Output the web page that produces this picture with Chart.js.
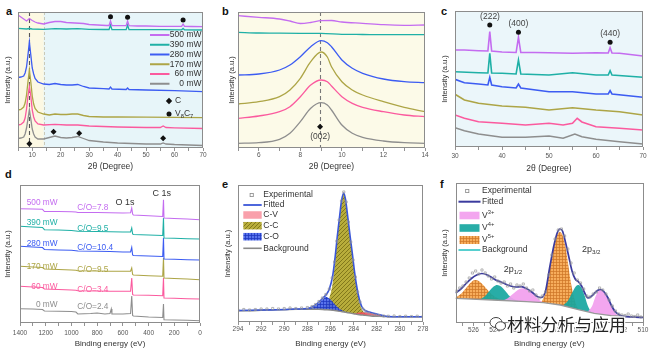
<!DOCTYPE html>
<html><head><meta charset="utf-8">
<script src="https://cdn.jsdelivr.net/npm/chart.js@4.4.1/dist/chart.umd.min.js"></script>
<style>
html,body{margin:0;padding:0;background:#fff;}
#wrap{position:relative;width:652px;height:353px;overflow:hidden;background:#fff;font-family:"Liberation Sans",Arial,sans-serif;}
#wrap canvas{position:absolute;}
.plbl{position:absolute;font-weight:bold;font-size:11px;line-height:11px;color:#111;}
.wm{position:absolute;left:507px;top:315px;font-family:"Noto Sans CJK SC",sans-serif;font-size:17px;line-height:18px;color:#222;letter-spacing:0px;
 text-shadow:1px 0 0 #fff,-1px 0 0 #fff,0 1px 0 #fff,0 -1px 0 #fff,1px 1px 0 #fff,-1px -1px 0 #fff,1px -1px 0 #fff,-1px 1px 0 #fff;}
.wmi{position:absolute;left:489px;top:316px;}
</style></head>
<body><div id="wrap">
<div class="plbl" style="left:6px;top:5.5px">a</div>
<div class="plbl" style="left:222px;top:5.5px">b</div>
<div class="plbl" style="left:441px;top:5.5px">c</div>
<div class="plbl" style="left:5px;top:168.5px">d</div>
<div class="plbl" style="left:222px;top:178.5px">e</div>
<div class="plbl" style="left:440px;top:178.5px">f</div>
</div>
<script>
// ---------------- DATA ----------------
const powerLabels = ['500 mW','390 mW','280 mW','170 mW','60 mW','0 mW'];
const coRatio = [7.8, 9.5, 10.4, 9.5, 3.4, 2.4];

// (a) XRD 5-70 deg
const a500X = [5,6,7,8,9,10,11,12,14,16,18,20,22,25,28,30,33,36,37,37.5,38,40,43,43.5,44,47,50,55,60,62.5,63,63.5,66,70];
const a500Y = [133,131,129,127,129.5,127.5,126,125,124,125.5,126.5,126.5,125.5,125,124.5,123.5,123,122.5,122.5,127,122.5,122.3,122.3,127,122.3,122,122,121.7,121.7,121.7,124,121.7,121.5,121.3];
const a390X = [5,8,9,10,14,18,22,26,30,35,37,37.5,38,43,43.5,44,50,56,62.5,63,63.5,70];
const a390Y = [119.7,119,119.5,119,118.7,119.3,119,119.3,118.7,118.5,118.5,123,118.5,118.3,123,118.3,118.3,118.3,118.2,119.5,118.2,118];
const a280X = [5,6,7,7.5,8,8.5,9,9.5,10,10.5,11,12,14,16,18,20,22,24,26,28,30,35,37,37.5,38,43,43.5,44,50,60,70];
const a280Y = [70.5,71,72,75,81,93,106,93,80,74,69.5,66,64,63.5,64.5,63.5,63,63,63.5,61.5,60,59.3,59,61,59,58.5,60,58.5,58,57.3,56.3];
const a170X = [5,6,7,7.5,8,8.5,9,9.5,10,10.5,11,12,14,16,18,20,22,24,26,28,30,35,40,50,60,70];
const a170Y = [38,38.5,41,45,53,66,78,66,52,44,39.5,36,34,33,34,33.5,33.5,34,34,32.5,31.5,31,31,30.8,30.6,30.3];
const a60X = [5,6,7,7.5,8,8.5,9,9.5,10,10.5,11,12,14,18,22,26,30,40,50,55,56,57,60,70];
const a60Y = [23,23.5,26,30,39,52,61.3,52,38,31,27,24,23,23.7,23,23,22,21,20.5,20.5,22,20.5,20.2,19.5];
const a0X = [5,6,7,7.5,8,8.5,9,9.5,10,10.5,11,12,14,16,18,20,22,24,26,28,30,35,40,50,55,56,57,60,70];
const a0Y = [9.5,10,11,14,20,29,38,29,19,14,11,9,9,10.5,12,10.5,10,10.5,11.5,9.5,7.5,6,5,4,4,5,4,3.5,2.5];
const aV8C7X = [37.5,43.5,63];
const aV8C7Y = [131.3,130.7,128];
const aCarbonX = [9,17.5,26.5,56];
const aCarbonY = [4.3,16.3,14.7,9.7];

// (b) XRD 5-14 deg
const b500X = [5,6,7,7.5,8,8.5,9,9.5,10,11,12,13,14];
const b500Y = [132.3,130.7,129,127,124.5,125.5,127.3,127.5,126,124.7,123.3,122.7,123];
const b390X = [5,6,7,8,9,10,11,12,13,14];
const b390Y = [115.7,115,114.8,114.7,114.7,113.7,113.5,113.3,113.3,113.3];
const bPeakX = [5,6,7,7.5,8,8.5,9,9.3,9.5,10,10.5,11,12,13,14];
const b280Y = [73,74,78,83,91.3,101.3,107.3,105.3,101.3,88,79.7,74.7,69,66.3,65.3];
const b170Y = [44,46.3,51.3,58,69.7,86.3,96,91,81.3,66.3,58,53,46.3,40.7,36.3];
const b60Y = [29.7,32,36.3,41.3,51.3,63,68,66.3,62,51.3,44.7,40.7,36.3,33,31.3];
const b0Y = [4.7,5.3,8.7,14.7,26.3,39.7,45.3,43,38,23,14.7,10.7,7,5.3,4.7];
const b002X = [8.95];
const b002Y = [21.3];

// (c) XRD 30-70 deg
const c500X = [30,32,35,37,37.4,37.8,40,43,43.5,44,47,50,55,60,62.6,63,63.4,65,70];
const c500Y = [97,97,96.3,96,115.3,96,95,94.5,109.7,94.5,94.5,94.3,93.7,94.3,94,99.3,94,93.7,91];
const c390X = [30,35,37,37.4,37.8,40,43,43.5,44,50,55,60,62.6,63,63.4,70];
const c390Y = [75.3,74.3,74,93.7,74,73.7,73,87,73,72,74.3,72,72,76.3,72,69.7];
const c280X = [30,32,35,37,37.4,37.8,40,43,43.5,44,50,55,60,62.6,63,63.4,70];
const c280Y = [67.7,64.3,63,62,69.7,62,60.3,59,63,59,55.3,55.3,53,53,56.3,53,49.7];
const c170X = [30,32,35,40,45,50,55,60,65,70];
const c170Y = [52.7,47,43.7,41,39.7,37,39.3,37,35.3,32];
const c60X = [30,32,35,40,45,50,53,55,56,57,60,65,70];
const c60Y = [32,28.7,25.3,23.7,22,23.7,22,23.7,28.7,25,20.3,18.7,17];
const c0X = [30,32,35,40,45,50,53,55.5,57,60,65,70];
const c0Y = [19.3,16.3,13,9.7,9.7,11,8.7,13,10.3,7.7,5.3,3];
const cPeakX = [37.4,43.5,63];
const cPeakY = [122,114.7,104.7];
const cPeakLabels = ['(222)','(400)','(440)'];

// (d) XPS survey
const dX = [1400,1300,1225,1210,1100,1000,965,950,800,700,600,540,531,524,518,400,290,284,280,200,100,0];
const d500 = [114.3,114,113.7,111.5,111.5,111.3,111,110.5,110.5,110.3,110,110.3,115,109,108,107.3,106.5,123.3,105,104.5,104,103.3];
const d390 = [96.7,96,95.5,93.3,93,92.5,92,91.7,91.5,91.3,91,91,95,89,88.5,88,87.5,105,85,84.7,84.3,84];
const d280 = [76.7,76,75.5,73.5,73,72.7,72.3,72,71.7,71.5,71,71,75.5,68,67.5,67,66.5,85,64,63.7,63.3,63];
const d170 = [56.7,56,55.5,54,53.5,53,52.7,52.3,52,51.8,51.7,51.7,55,48.5,48,47.3,46.7,65,45,44.5,44,43.3];
const d60 = [36.7,36,35.5,34,33.5,33,32.7,32.3,32,31.8,31.7,31.7,45,28.5,28,27.7,27.3,45,25,24.7,24.3,24];
const d0X = [1400,1300,1225,1210,1100,1000,965,950,850,800,740,700,690,685,600,540,531,524,518,400,290,284,280,200,100,0];
const d0 = [14.3,14,13.5,12,11.7,11.5,11,9,9.5,10,9,9.5,14,9,9,9.5,27,7.5,7,6,5.5,19,3.3,3,2.7,2.3];

// (e) C 1s
const eExpX = [294,293.5,293,292.5,292,291.5,291,290.5,290,289.5,289,288.5,288,287.6,287.3,287,286.7,286.4,286.1,285.85,285.65,285.45,285.25,285.05,284.85,284.65,284.45,284.25,284.05,283.85,283.65,283.45,283.2,283,282.7,282.4,282.1,281.8,281.4,281,280.5,280,279.5,279,278.5,278];
const eExpY = [12,12.5,12,12.5,13,13,13.5,13,13.5,14,13.5,14,14.5,15.5,17.5,20.5,24,27.5,33,44,60,81,102,121,130,120,100,80,62,45,30,20,13,10.5,9,7.5,7,6.5,6,5.8,6,5.5,5.8,5.5,5.8,5.5];
const eFitX = [294,292,290,289,288,287.5,287,286.7,286.4,286.1,285.8,285.6,285.4,285.2,285.05,284.86,284.7,284.5,284.3,284.1,283.9,283.7,283.5,283.3,283,282.5,282,281.5,281,280,278];
const eFitY = [11.5,12,12.5,13,13.5,15.5,20,23.5,27,33,47,65,87,107,121,129,122.5,104.5,85.5,67.5,48.5,33.5,22.5,15.5,11.5,9.5,8,6.5,5.5,5.3,5.3];
const eBgX = [294,293,292,291,290,289,288,287,286.5,286,285.5,285,284.5,284,283.5,283,282.5,282,281,280,278];
const eBgY = [11.3,11.3,11.7,12,12.3,12.7,12.7,12.7,12.3,12,11.3,10.3,9.3,8.3,7.3,6.7,6,5.7,5.3,5.3,5.3];
const eCVX = [284,283.5,283,282.7,282.3,282,281.5,281];
const eCVY = [8.6,9.6,9.8,9.6,8.8,8,6.5,5.5];
const eCCX = [287.5,287,286.5,286.1,285.8,285.6,285.4,285.2,285.05,284.86,284.7,284.5,284.3,284.1,283.9,283.7,283.5,283.3,283,282.5,282];
const eCCY = [12.8,13.5,16,24,40,62,85,106,120,128.7,122,104,85,67,48,33,21,13,8.5,6.5,5.8];
const eCOX = [288.3,288,287.5,287,286.7,286.4,286.1,285.8,285.5,285.2,284.9,284.6];
const eCOY = [12.7,13.2,15,19,22.5,25.3,23.5,20,16,13,11,9.6];

// (f) V 2p
const fExpX = [527.6,527.3,527.0,526.7,526.4,526.1,525.8,525.5,525.2,524.9,524.6,524.3,524.0,523.7,523.4,523.1,522.8,522.5,522.2,521.9,521.6,521.3,521.0,520.7,520.4,520.1,519.8,519.5,519.2,518.9,518.6,518.3,518.0,517.7,517.4,517.1,516.8,516.5,516.2,515.9,515.6,515.3,515.0,514.7,514.4,514.1,513.8,513.5,513.2,512.9,512.6,512.3,512.0,511.7,511.4,511.1,510.8,510.5,510.2];
const fExpY = [32,35,37,41,45,50,52,49,53,50,47,44,46,42,40,41,37,39,35,38,37,39,35,32,33,28,25,27,31,48,68,84,93,94,87,74,60,50,43,40,34,27,26,29,31,35,33,29,23,17,12,9,8,7.5,9,7,6.5,8,6];
const fFitX = [527.7,527.2,526.7,526.2,525.7,525.2,524.7,524.2,523.8,523.4,523.0,522.5,522.0,521.5,521.0,520.5,520.0,519.6,519.2,518.8,518.4,518.1,517.84,517.6,517.3,517.0,516.7,516.4,516.1,515.8,515.5,515.2,514.9,514.6,514.3,514.0,513.7,513.3,513.0,512.6,512.2,511.8,511,510];
const fFitY = [30,34,39.5,44.5,48,49.5,48,45,42.5,41,39,37,36,36.3,34.5,31,26.5,25.5,32,56,78,90,94,92,80,66,52,44,41.3,37,30,25,26.5,29.5,32.5,33.5,31.5,25,18,11,8,6.7,6,5.5];
const fBgX = [527.7,524.2,521.0,519.4,517.8,516.2,514.6,513.0,511.4,510];
const fBgY = [24.7,23,21.3,20.3,18,13.7,9.7,7.3,6.3,5.8];
const fLow1X = [523.2,522.8,522.4,522.0,521.7,521.36,521.0,520.6,520.2,519.8,519.4];
const fLow1Y = [22.5,24.5,28,31.5,33.8,34.7,33.8,31,27,23,20.5];
const fLow3X = [515.2,514.8,514.5,514.2,514.0,513.7,513.3,513.0,512.7,512.4,512.0];
const fLow3Y = [11.5,17,26,32,33,31,24,17,11,8,6.8];
const fMid1X = [525.3,524.9,524.5,524.1,523.76,523.4,523.0,522.6,522.2,521.8];
const fMid1Y = [24,27,32,36.5,38,36.5,32,27,24,22.2];
const fMid3X = [517.5,517.1,516.7,516.35,516.08,515.8,515.5,515.2,514.9,514.6];
const fMid3Y = [18,22,30,36.5,38,35,27,17,11.5,9.8];
const fHigh1X = [527.7,527.2,526.7,526.2,525.84,525.5,525.0,524.5,524.0,523.5,523.1];
const fHigh1Y = [25.5,29,35,41,43,42,37,31,26.5,24,23.2];
const fHigh3X = [519.6,519.2,518.8,518.4,518.1,517.84,517.6,517.3,517.04,516.8,516.5,516.24,516.0];
const fHigh3Y = [21,30,55,77,88,91,88,75,57,40,25,16.5,13];

// ---------------- STYLE / HELPERS ----------------
const F = '"Liberation Sans", Arial, Helvetica, sans-serif';
const seriesColors = ['#c46cf0','#1fb0a6','#3c5cf2','#ada546','#fb5a9e','#8e8e8e'];
Chart.defaults.font.family = F;
Chart.defaults.color = '#555';

const pts = (xs, ys) => xs.map((x, i) => ({x: x, y: ys[i]}));

function makePattern(base, line, type, size) {
  const c = document.createElement('canvas'); c.width = size; c.height = size;
  const g = c.getContext('2d');
  g.fillStyle = base; g.fillRect(0, 0, size, size);
  g.strokeStyle = line; g.lineWidth = 0.8;
  g.beginPath();
  if (type === 'diag') {
    g.moveTo(0, size); g.lineTo(size, 0);
    g.moveTo(-1, 1); g.lineTo(1, -1);
    g.moveTo(size - 1, size + 1); g.lineTo(size + 1, size - 1);
  } else {
    g.moveTo(0, 0.5); g.lineTo(size, 0.5);
    g.moveTo(0.5, 0); g.lineTo(0.5, size);
  }
  g.stroke();
  return g.createPattern(c, 'repeat');
}
const ccFill = makePattern('rgba(178,166,42,0.92)', 'rgba(110,100,15,0.9)', 'diag', 4);
const coFill = makePattern('rgba(70,100,235,0.9)', 'rgba(30,55,190,0.95)', 'grid', 3);
const cvFill = 'rgba(244,70,95,0.85)';
const cvLegend = '#f9a0ab';
const fHighFill = makePattern('rgba(246,166,78,0.92)', 'rgba(206,118,40,0.9)', 'grid', 3);
const fMidFill = 'rgba(22,166,160,0.92)';
const fLowFill = 'rgba(242,158,238,0.92)';

function parseRich(s) {
  const out = []; let i = 0, buf = '';
  while (i < s.length) {
    const ch = s[i];
    if ((ch === '_' || ch === '^') && s[i + 1] === '{') {
      if (buf) { out.push({t: buf, k: 0}); buf = ''; }
      const j = s.indexOf('}', i);
      out.push({t: s.slice(i + 2, j), k: ch === '_' ? 1 : 2});
      i = j + 1;
    } else { buf += ch; i++; }
  }
  if (buf) out.push({t: buf, k: 0});
  return out;
}
function drawRich(ctx, s, x, y, size, color, align) {
  const parts = parseRich(s);
  let w = 0;
  for (const p of parts) { ctx.font = (p.k ? size * 0.68 : size) + 'px ' + F; p.w = ctx.measureText(p.t).width; w += p.w; }
  let cx = align === 'left' ? x : (align === 'right' ? x - w : x - w / 2);
  ctx.fillStyle = color; ctx.textBaseline = 'middle'; ctx.textAlign = 'left';
  for (const p of parts) {
    ctx.font = (p.k ? size * 0.68 : size) + 'px ' + F;
    const dy = p.k === 1 ? size * 0.3 : (p.k === 2 ? -size * 0.38 : 0);
    ctx.fillText(p.t, cx, y + dy);
    cx += p.w;
  }
}

const DECOR = new WeakMap();
const decorPlugin = {
  id: 'decorRK',
  beforeDatasetsDraw(chart) {
    const o = DECOR.get(chart.canvas) || {};
    const {ctx, chartArea: a} = chart; const xs = chart.scales.x;
    ctx.save();
    ctx.fillStyle = o.bg || '#fff';
    ctx.fillRect(a.left, a.top, a.width, a.height);
    for (const b of (o.bands || [])) {
      const x1 = xs.getPixelForValue(b.from), x2 = xs.getPixelForValue(b.to);
      ctx.fillStyle = b.color;
      ctx.fillRect(Math.min(x1, x2), a.top, Math.abs(x2 - x1), a.height);
    }
    for (const v of (o.vlines || [])) {
      const px = Math.round(xs.getPixelForValue(v.x)) + 0.5;
      ctx.strokeStyle = v.color; ctx.lineWidth = v.width || 1; ctx.setLineDash(v.dash || []);
      ctx.beginPath(); ctx.moveTo(px, a.top); ctx.lineTo(px, a.bottom); ctx.stroke();
    }
    ctx.restore();
  },
  afterDatasetsDraw(chart) {
    const o = DECOR.get(chart.canvas) || {};
    const {ctx, chartArea: a} = chart; const xs = chart.scales.x, ys = chart.scales.y;
    ctx.save();
    ctx.strokeStyle = '#8c8c8c'; ctx.lineWidth = 1; ctx.setLineDash([]);
    ctx.strokeRect(Math.round(a.left) + 0.5, Math.round(a.top) + 0.5, Math.round(a.width) - 1, Math.round(a.height) - 1);
    for (const t of (o.texts || [])) {
      drawRich(ctx, t.text, xs.getPixelForValue(t.x), ys.getPixelForValue(t.y), t.size || 8, t.color || '#333', t.align || 'center');
    }
    for (const it of (o.legend || [])) {
      const y = a.top + it.y, x1 = a.left + it.x1, x2 = a.left + it.x2, cx = (x1 + x2) / 2;
      ctx.save();
      if (it.kind === 'line') {
        ctx.strokeStyle = it.color; ctx.lineWidth = it.lw || 1.5;
        ctx.beginPath(); ctx.moveTo(x1, y); ctx.lineTo(x2, y); ctx.stroke();
      } else if (it.kind === 'box') {
        ctx.fillStyle = it.fill; ctx.fillRect(x1, y - it.h / 2, x2 - x1, it.h);
      } else if (it.kind === 'sq') {
        ctx.strokeStyle = it.color; ctx.lineWidth = 0.8; ctx.strokeRect(cx - 1.6, y - 1.6, 3.2, 3.2);
      } else if (it.kind === 'diamond') {
        ctx.fillStyle = it.color; ctx.beginPath();
        ctx.moveTo(cx, y - 3.2); ctx.lineTo(cx + 3.2, y); ctx.lineTo(cx, y + 3.2); ctx.lineTo(cx - 3.2, y); ctx.closePath(); ctx.fill();
      } else if (it.kind === 'circle') {
        ctx.fillStyle = it.color; ctx.beginPath(); ctx.arc(cx, y, 2.5, 0, Math.PI * 2); ctx.fill();
      }
      ctx.restore();
      drawRich(ctx, it.text, a.left + it.tx, y, it.size || 8.5, it.tcolor || '#333', it.align || 'left');
    }
    ctx.restore();
  }
};

function buildChart(s) {
  const cv = document.createElement('canvas');
  cv.width = s.box.w; cv.height = s.box.h;
  cv.style.left = s.box.left + 'px'; cv.style.top = s.box.top + 'px';
  cv.style.width = s.box.w + 'px'; cv.style.height = s.box.h + 'px';
  document.getElementById('wrap').appendChild(cv);
  DECOR.set(cv, s.decor || {});
  const xAxisH = s.box.top + s.box.h - s.area.b;
  const yAxisW = s.area.l - s.box.left;
  const major = s.x.major;
  return new Chart(cv.getContext('2d'), {
    type: 'line',
    data: {datasets: s.datasets},
    options: {
      responsive: false, maintainAspectRatio: false, animation: false, devicePixelRatio: 1, events: [],
      layout: {padding: {left: 0, top: s.area.t - s.box.top, right: s.box.left + s.box.w - s.area.r, bottom: 0}},
      elements: {point: {radius: 0, hoverRadius: 0}, line: {borderWidth: 1.3, tension: 0}},
      plugins: {legend: {display: false}, tooltip: {enabled: false}},
      scales: {
        x: {
          type: 'linear', position: 'bottom', bounds: 'data', min: s.x.min, max: s.x.max, reverse: !!s.x.reverse,
          afterFit: sc => { sc.height = xAxisH; },
          ticks: {stepSize: s.x.step, autoSkip: false, maxRotation: 0, minRotation: 0, includeBounds: false,
                  padding: s.x.pad, color: '#555', font: {size: 6.5, family: F},
                  callback: v => (Math.abs(v / major - Math.round(v / major)) < 1e-6 ? String(Math.round(v)) : '')},
          grid: {display: true, drawOnChartArea: false, drawTicks: true, tickLength: 3, color: '#777', lineWidth: 0.8},
          border: {display: false},
          title: {display: true, text: s.x.title, color: '#333', font: {size: s.x.titleSize, family: F}, padding: {top: 0, bottom: s.x.titlePb}}
        },
        y: {
          type: 'linear', position: 'left', bounds: 'data', min: 0, max: s.area.b - s.area.t,
          afterFit: sc => { sc.width = yAxisW; },
          ticks: {display: false}, grid: {display: false}, border: {display: false},
          title: {display: true, text: 'Intensity (a.u.)', color: '#333', font: {size: 7.5, family: F}, padding: {top: s.yTitlePt, bottom: 0}}
        }
      }
    },
    plugins: [decorPlugin]
  });
}

function lineDs(xs, ys, color, extra) {
  return Object.assign({data: pts(xs, ys), borderColor: color, backgroundColor: color, fill: false, pointRadius: 0}, extra || {});
}
function markerDs(xs, ys, style, r) {
  return {data: pts(xs, ys), showLine: false, pointStyle: style, pointRadius: r, pointBackgroundColor: '#111', pointBorderColor: '#111', pointBorderWidth: 0, borderColor: '#111'};
}
function powerLegend(top, spacing) {
  return powerLabels.map((t, i) => ({kind: 'line', x1: 132, x2: 151.5, y: top + spacing * i, color: seriesColors[i], lw: 2, text: t, tx: 183.5, align: 'right', size: 8.5}));
}

// ---------------- PANEL a ----------------
buildChart({
  box: {left: 0, top: 0, w: 215, h: 175}, area: {l: 18, r: 203, t: 12, b: 148},
  x: {min: 5, max: 70, step: 5, major: 10, pad: 0, title: '2\u03B8 (Degree)', titleSize: 8.5, titlePb: 2.9},
  yTitlePt: 3.5,
  datasets: [
    markerDs(aV8C7X, aV8C7Y, 'circle', 2.5),
    markerDs(aCarbonX, aCarbonY, 'rectRot', 3),
    lineDs(a500X, a500Y, seriesColors[0]),
    lineDs(a390X, a390Y, seriesColors[1]),
    lineDs(a280X, a280Y, seriesColors[2]),
    lineDs(a170X, a170Y, seriesColors[3]),
    lineDs(a60X, a60Y, seriesColors[4]),
    lineDs(a0X, a0Y, seriesColors[5])
  ],
  decor: {
    bg: '#e7f5f9',
    bands: [{from: 5, to: 14, color: '#fcf8e3'}],
    vlines: [{x: 9, color: '#555', dash: [4, 3], width: 1.1}, {x: 14, color: '#c9c9b8', dash: [3, 2], width: 1}],
    legend: powerLegend(23, 9.75).concat([
      {kind: 'diamond', x1: 151, x2: 151, y: 89, color: '#111', text: 'C', tx: 157, size: 8.5},
      {kind: 'circle', x1: 151, x2: 151, y: 102, color: '#111', text: 'V_{8}C_{7}', tx: 157, size: 8.5}
    ])
  }
});

// ---------------- PANEL b ----------------
const bOpt = {cubicInterpolationMode: 'monotone'};
buildChart({
  box: {left: 215, top: 0, w: 215, h: 175}, area: {l: 238, r: 425, t: 12, b: 148},
  x: {min: 5, max: 14, step: 1, major: 2, pad: 0, title: '2\u03B8 (Degree)', titleSize: 8.5, titlePb: 3.2},
  yTitlePt: 12.2,
  datasets: [
    markerDs(b002X, b002Y, 'rectRot', 3),
    lineDs(b500X, b500Y, seriesColors[0], bOpt),
    lineDs(b390X, b390Y, seriesColors[1], bOpt),
    lineDs(bPeakX, b280Y, seriesColors[2], bOpt),
    lineDs(bPeakX, b170Y, seriesColors[3], bOpt),
    lineDs(bPeakX, b60Y, seriesColors[4], bOpt),
    lineDs(bPeakX, b0Y, seriesColors[5], bOpt)
  ],
  decor: {
    bg: '#fcfae8',
    vlines: [{x: 8.95, color: '#777', dash: [4, 3], width: 1.1}],
    texts: [{x: 8.95, y: 11.3, text: '(002)', size: 8.5, color: '#444'}]
  }
});

// ---------------- PANEL c ----------------
const cOpt = {borderWidth: 1.6};
buildChart({
  box: {left: 430, top: 0, w: 222, h: 175}, area: {l: 455, r: 643, t: 11, b: 147},
  x: {min: 30, max: 70, step: 5, major: 10, pad: 2.8, title: '2\u03B8 (Degree)', titleSize: 8.5, titlePb: 1.6},
  yTitlePt: 10.5,
  datasets: [
    markerDs(cPeakX, cPeakY, 'circle', 2.5),
    lineDs(c500X, c500Y, seriesColors[0], cOpt),
    lineDs(c390X, c390Y, seriesColors[1], cOpt),
    lineDs(c280X, c280Y, seriesColors[2], cOpt),
    lineDs(c170X, c170Y, seriesColors[3], cOpt),
    lineDs(c60X, c60Y, seriesColors[4], cOpt),
    lineDs(c0X, c0Y, seriesColors[5], cOpt)
  ],
  decor: {
    bg: '#ebf6fa',
    texts: [
      {x: 37.45, y: 130.5, text: cPeakLabels[0], size: 8.5, color: '#444'},
      {x: 43.5, y: 123, text: cPeakLabels[1], size: 8.5, color: '#444'},
      {x: 63, y: 113.7, text: cPeakLabels[2], size: 8.5, color: '#444'}
    ]
  }
});

// ---------------- PANEL d ----------------
const dSeries = [d500, d390, d280, d170, d60];
const dPowerY = [120, 100, 79.3, 56.7, 36.7, 18.3];
const dRatioY = [115, 94.3, 75, 53.3, 33.3, 16.7];
buildChart({
  box: {left: 0, top: 175, w: 215, h: 178}, area: {l: 20, r: 200, t: 185, b: 323},
  x: {min: 0, max: 1400, reverse: true, step: 100, major: 200, pad: 3, title: 'Binding energy (eV)', titleSize: 8, titlePb: 4.9},
  yTitlePt: 3.8,
  datasets: dSeries.map((ys, i) => lineDs(dX, ys, seriesColors[i], {borderWidth: 1.1})).concat([lineDs(d0X, d0, seriesColors[5], {borderWidth: 1.1})]),
  decor: {
    bg: '#ffffff',
    texts: powerLabels.map((t, i) => ({x: 1108, y: dPowerY[i], text: t, size: 8.3, color: seriesColors[i], align: 'right'}))
      .concat(coRatio.map((r, i) => ({x: 954, y: dRatioY[i], text: 'C/O=' + r, size: 8.3, color: seriesColors[i], align: 'left'})))
      .concat([{x: 583, y: 120, text: 'O 1s', size: 9, color: '#333'}, {x: 298, y: 129, text: 'C 1s', size: 9, color: '#333'}])
  }
});

// ---------------- PANEL e ----------------
const sm = {cubicInterpolationMode: 'monotone'};
buildChart({
  box: {left: 215, top: 175, w: 215, h: 178}, area: {l: 238, r: 423, t: 185, b: 322},
  x: {min: 278, max: 294, reverse: true, step: 1, major: 2, pad: 0.4, title: 'Binding energy (eV)', titleSize: 8, titlePb: 4.9},
  yTitlePt: 8.5,
  datasets: [
    {data: pts(eExpX, eExpY), showLine: false, pointStyle: 'rect', pointRadius: 1.5, pointBorderWidth: 0.7, pointBorderColor: '#999', pointBackgroundColor: 'rgba(255,255,255,0)'},
    lineDs(eFitX, eFitY, '#3a56d8', Object.assign({borderWidth: 1.6}, sm)),
    lineDs(eBgX, eBgY, '#8a8a8a', Object.assign({borderWidth: 1.4}, sm)),
    Object.assign({data: pts(eCVX, eCVY), borderWidth: 0, backgroundColor: cvFill, fill: 2, pointRadius: 0}, sm),
    Object.assign({data: pts(eCOX, eCOY), borderWidth: 0, backgroundColor: coFill, fill: 2, pointRadius: 0}, sm),
    Object.assign({data: pts(eCCX, eCCY), borderWidth: 0, backgroundColor: ccFill, fill: 2, pointRadius: 0}, sm)
  ],
  decor: {
    bg: '#ffffff',
    legend: [
      {kind: 'sq', x1: 10.7, x2: 16.7, y: 10, color: '#888', text: 'Experimental', tx: 25.3},
      {kind: 'line', x1: 5.3, x2: 23.7, y: 20, color: '#3a56d8', lw: 1.8, text: 'Fitted', tx: 25.3},
      {kind: 'box', x1: 5.3, x2: 23.7, y: 30, h: 7.5, fill: cvLegend, text: 'C-V', tx: 25.3},
      {kind: 'box', x1: 5.3, x2: 23.7, y: 40.7, h: 7.5, fill: ccFill, text: 'C-C', tx: 25.3},
      {kind: 'box', x1: 5.3, x2: 23.7, y: 51.7, h: 7.5, fill: coFill, text: 'C-O', tx: 25.3},
      {kind: 'line', x1: 5.3, x2: 23.7, y: 63.3, color: '#8a8a8a', lw: 1.6, text: 'Background', tx: 25.3}
    ]
  }
});

// ---------------- PANEL f ----------------
buildChart({
  box: {left: 430, top: 175, w: 222, h: 178}, area: {l: 455.5, r: 643, t: 183, b: 323},
  x: {min: 510, max: 527.7, reverse: true, step: 1, major: 2, pad: 0, title: 'Binding energy (eV)', titleSize: 8, titlePb: 4.9},
  yTitlePt: 10.5,
  datasets: [
    {data: pts(fExpX, fExpY), showLine: false, pointStyle: 'rect', pointRadius: 1.5, pointBorderWidth: 0.7, pointBorderColor: '#999', pointBackgroundColor: 'rgba(255,255,255,0)'},
    lineDs(fFitX, fFitY, '#3b3b9e', Object.assign({borderWidth: 1.7}, sm)),
    lineDs(fBgX, fBgY, '#999999', {borderWidth: 1.3}),
    Object.assign({data: pts(fLow1X, fLow1Y), borderWidth: 0, backgroundColor: fLowFill, fill: 2, pointRadius: 0}, sm),
    Object.assign({data: pts(fLow3X, fLow3Y), borderWidth: 0, backgroundColor: fLowFill, fill: 2, pointRadius: 0}, sm),
    Object.assign({data: pts(fMid1X, fMid1Y), borderWidth: 0, backgroundColor: fMidFill, fill: 2, pointRadius: 0}, sm),
    Object.assign({data: pts(fMid3X, fMid3Y), borderWidth: 0, backgroundColor: fMidFill, fill: 2, pointRadius: 0}, sm),
    Object.assign({data: pts(fHigh1X, fHigh1Y), borderWidth: 0, backgroundColor: fHighFill, fill: 2, pointRadius: 0}, sm),
    Object.assign({data: pts(fHigh3X, fHigh3Y), borderWidth: 0, backgroundColor: fHighFill, fill: 2, pointRadius: 0}, sm)
  ],
  decor: {
    bg: '#ffffff',
    texts: [
      {x: 523.15, y: 53, text: '2p_{1/2}', size: 9, color: '#333', align: 'left'},
      {x: 515.76, y: 73, text: '2p_{3/2}', size: 9, color: '#333', align: 'left'}
    ],
    legend: [
      {kind: 'sq', x1: 9, x2: 14.5, y: 8, color: '#888', text: 'Experimental', tx: 26.5},
      {kind: 'line', x1: 3, x2: 25, y: 18.7, color: '#3b3b9e', lw: 2, text: 'Fitted', tx: 26.5},
      {kind: 'box', x1: 4, x2: 24, y: 32.5, h: 7.6, fill: fLowFill, text: 'V^{3+}', tx: 26.5},
      {kind: 'box', x1: 4, x2: 24, y: 45, h: 7.6, fill: fMidFill, text: 'V^{4+}', tx: 26.5},
      {kind: 'box', x1: 4, x2: 24, y: 57, h: 8, fill: fHighFill, text: 'V^{5+}', tx: 26.5},
      {kind: 'line', x1: 3, x2: 25, y: 67, color: '#2ec4c4', lw: 1.6, text: 'Background', tx: 26.5}
    ]
  }
});

// watermark (part of the reference image)
const wrap = document.getElementById('wrap');
const wmi = document.createElement('div');
wmi.className = 'wmi';
wmi.innerHTML = '<svg width="18" height="16" viewBox="0 0 18 16"><ellipse cx="7" cy="6.5" rx="6" ry="5" fill="#fff" stroke="#444" stroke-width="1"/><ellipse cx="11.5" cy="10" rx="5" ry="4.2" fill="#fff" stroke="#444" stroke-width="1"/></svg>';
wrap.appendChild(wmi);
const wm = document.createElement('div');
wm.className = 'wm';
wm.textContent = '材料分析与应用';
wrap.appendChild(wm);
</script>
</body></html>
